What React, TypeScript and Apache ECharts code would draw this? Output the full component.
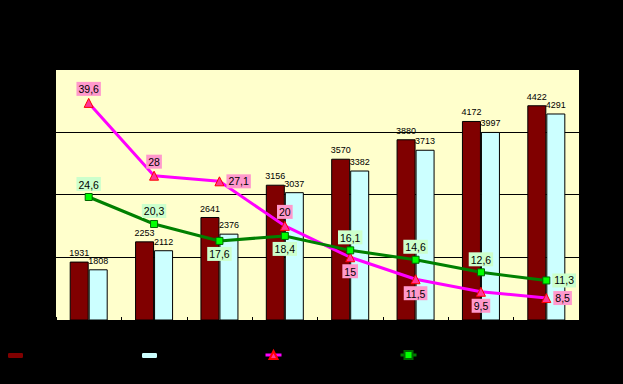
import React, { useEffect, useRef } from "react";
import * as echarts from "echarts";

const categories = ["1", "2", "3", "4", "5", "6", "7", "8"];
const seriesA = [1931, 2253, 2641, 3156, 3570, 3880, 4172, 4422];
const seriesB = [1808, 2112, 2376, 3037, 3382, 3713, 3997, 4291];
const pinkLine = [39.6, 28, 27.1, 20, 15, 11.5, 9.5, 8.5];
const greenLine = [24.6, 20.3, 17.6, 18.4, 16.1, 14.6, 12.6, 11.3];
const names = ["A", "B", "C", "D"];

const pinkLabelPos = ["top", "top", "right", "top", "bottom", "bottom", "bottom", "right"];
const greenLabelPos = ["top", "top", "bottom", "bottom", "top", "top", "top", "right"];

const FONT = "'Liberation Sans', Arial, sans-serif";
const fmt = (p: any) => String(p.value).replace(".", ",");

export default function App() {
  const ref = useRef<HTMLDivElement>(null);
  useEffect(() => {
    const chart = echarts.init(ref.current!, null, { renderer: "svg" });
    const barLabel = {
      show: true,
      position: "top",
      color: "#000",
      fontSize: 9,
      fontFamily: FONT,
      distance: 4,
    };
    const lineLabel = (bg: string) => ({
      show: true,
      color: "#000",
      fontSize: 10.5,
      fontFamily: FONT,
      backgroundColor: bg,
      padding: [2, 2, 1, 2],
      distance: 2,
      formatter: fmt,
    });
    const legendBase = {
      formatter: () => "",
      itemGap: 0,
      selectedMode: false,
      padding: 0,
    };
    chart.setOption({
      animation: false,
      backgroundColor: "#000000",
      grid: {
        left: 56,
        right: 44,
        top: 69,
        bottom: 64,
        show: true,
        backgroundColor: "#FFFFCC",
        borderWidth: 0,
      },
      legend: [
        { ...legendBase, data: [names[0]], left: 8, top: 353, itemWidth: 15, itemHeight: 5, itemStyle: { borderWidth: 0 } },
        { ...legendBase, data: [names[1]], left: 142, top: 353, itemWidth: 15, itemHeight: 5, itemStyle: { borderWidth: 0 } },
        { ...legendBase, data: [names[2]], left: 264, top: 350, itemWidth: 16, itemHeight: 10, lineStyle: { width: 3 } },
        { ...legendBase, data: [names[3]], left: 399, top: 350, itemWidth: 16, itemHeight: 10, lineStyle: { width: 3 } },
      ],
      xAxis: {
        type: "category",
        data: categories,
        axisLine: { show: false },
        axisTick: { show: true, inside: true, length: 3, lineStyle: { color: "#000" } },
        axisLabel: { show: false },
      },
      yAxis: [
        {
          type: "value",
          min: 1000,
          max: 5000,
          interval: 1000,
          axisLine: { show: false },
          axisTick: { show: false },
          axisLabel: { show: false },
          splitLine: { show: true, lineStyle: { color: "#000", width: 1 } },
        },
        {
          type: "value",
          min: 5,
          max: 45,
          interval: 10,
          axisLine: { show: false },
          axisTick: { show: false },
          axisLabel: { show: false },
          splitLine: { show: false },
        },
      ],
      series: [
        {
          name: names[0],
          type: "bar",
          data: seriesA,
          barWidth: 19,
          barGap: "0%",
          itemStyle: { color: "#800000", borderColor: "#000", borderWidth: 1 },
          label: barLabel,
          z: 2,
        },
        {
          name: names[1],
          type: "bar",
          data: seriesB,
          barWidth: 19,
          barGap: "0%",
          itemStyle: { color: "#CCFFFF", borderColor: "#000", borderWidth: 1 },
          label: barLabel,
          z: 2,
        },
        {
          name: names[2],
          type: "line",
          yAxisIndex: 1,
          data: pinkLine.map((v, i) => ({ value: v, label: { position: pinkLabelPos[i] } })),
          symbol: "triangle",
          symbolSize: 9,
          lineStyle: { color: "#FF00FF", width: 3 },
          itemStyle: { color: "#FF3399", borderColor: "#FF0000", borderWidth: 1 },
          label: lineLabel("#FF99CC"),
          z: 4,
        },
        {
          name: names[3],
          type: "line",
          yAxisIndex: 1,
          data: greenLine.map((v, i) => ({ value: v, label: { position: greenLabelPos[i] } })),
          symbol: "rect",
          symbolSize: 7,
          lineStyle: { color: "#008000", width: 3 },
          itemStyle: { color: "#00FF00", borderColor: "#006600", borderWidth: 1 },
          label: lineLabel("#CCFFCC"),
          z: 4,
        },
      ],
    });
    return () => chart.dispose();
  }, []);
  return (
    <div
      ref={ref}
      style={{ position: "fixed", left: 0, top: 0, width: 623, height: 384 }}
    />
  );
}
